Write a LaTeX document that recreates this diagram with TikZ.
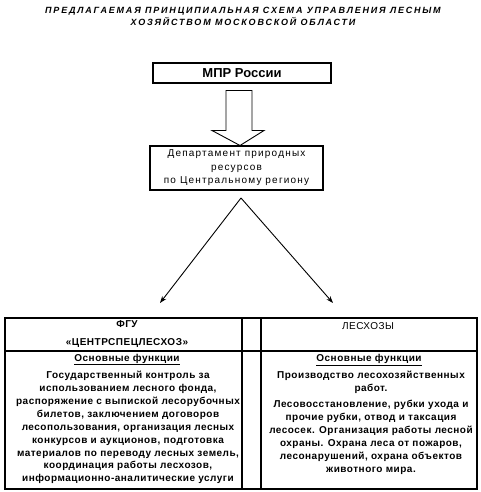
\documentclass[tikz,border=0pt]{standalone}
\usepackage{fontspec}
\setmainfont{Liberation Sans}
\newfontfamily\titlefont[LetterSpace=20]{Liberation Sans}
\newfontfamily\deptfont[LetterSpace=12]{Liberation Sans}
\newfontfamily\cellfont[LetterSpace=5]{Liberation Sans}
\usetikzlibrary{arrows.meta,calc}
\tikzset{
  box/.style={draw, line width=1.2pt, inner sep=0pt},
  thin/.style={line width=0.9pt},
  tbl/.style={line width=1.3pt},
  branch/.style={line width=0.9pt, -{Stealth[length=7pt,width=5pt]}},
  ttl/.style={align=center, font=\titlefont\bfseries\itshape\fontsize{9}{12}\selectfont},
  dtext/.style={align=center, font=\deptfont\fontsize{10}{13.5}\selectfont},
  ctext/.style={align=center, font=\cellfont\bfseries\fontsize{10}{12.9}\selectfont, inner sep=0pt},
  hdr/.style={align=center, font=\cellfont\bfseries\fontsize{10}{17.5}\selectfont, inner sep=0pt},
}
\begin{document}
\begin{tikzpicture}[x=1pt,y=-1pt]
\useasboundingbox (0,0) rectangle (481,492);
\node[ttl] (title) at (243,16.5) {ПРЕДЛАГАЕМАЯ ПРИНЦИПИАЛЬНАЯ СХЕМА УПРАВЛЕНИЯ ЛЕСНЫМ\\ХОЗЯЙСТВОМ МОСКОВСКОЙ ОБЛАСТИ};
\node[box, minimum width=178pt, minimum height=20pt, font=\bfseries\fontsize{13}{15}\selectfont] (mpr) at (242,73) {МПР России};
\node[box, minimum width=173pt, minimum height=44pt, dtext] (dept) at (236.5,168) {Департамент природных\\ресурсов\\по Центральному региону};
% block arrow
\coordinate (tip) at (240,145.5);
\draw[thin] ($(tip)+(-14,-55)$) -- ($(tip)+(12,-55)$) -- ($(tip)+(12,-15)$) -- ($(tip)+(24,-15)$) -- (tip) -- ($(tip)+(-28,-15)$) -- ($(tip)+(-14,-15)$) -- cycle;
% branches
\coordinate (apex) at (241,198);
\coordinate (lend) at (160,303);
\coordinate (rend) at (333,303);
\draw[branch] (apex) -- (lend);
\draw[branch] (apex) -- (rend);
% table
\draw[tbl] (5,318) rectangle (477,489);
\draw[tbl] (5,351) -- (477,351);
\draw[tbl] (242,318) -- (242,489);
\draw[tbl] (261,318) -- (261,489);
\node[hdr] (h1) at (127,334) {ФГУ\\«ЦЕНТРСПЕЦЛЕСХОЗ»};
\node[ctext, font=\cellfont\fontsize{10}{12}\selectfont] (h2) at (368,326) {ЛЕСХОЗЫ};
\node[ctext] (f1) at (127,359.5) {\underline{Основные функции}};
\node[ctext] (f2) at (369,360) {\underline{Основные функции}};
\node[ctext, anchor=north] (b1) at (128,371) {Государственный контроль за\\использованием лесного фонда,\\распоряжение с выпиской лесорубочных\\билетов, заключением договоров\\лесопользования, организация лесных\\конкурсов и аукционов, подготовка\\материалов по переводу лесных земель,\\координация работы лесхозов,\\информационно-аналитические услуги};
\node[ctext, anchor=north] (b2) at (371,371) {Производство лесохозяйственных\\работ.\\[3.5pt]Лесовосстановление, рубки ухода и\\прочие рубки, отвод и таксация\\лесосек. Организация работы лесной\\охраны. Охрана леса от пожаров,\\лесонарушений, охрана объектов\\животного мира.};
\end{tikzpicture}
\end{document}
